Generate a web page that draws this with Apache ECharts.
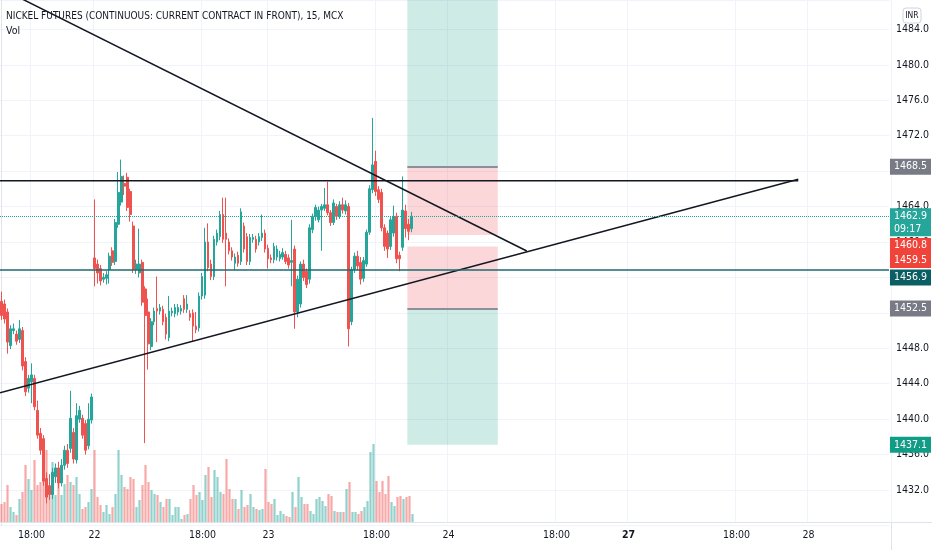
<!DOCTYPE html>
<html>
<head>
<meta charset="utf-8">
<script src="https://cdn.jsdelivr.net/npm/echarts@6/dist/echarts.min.js"></script>
<style>
  html, body { margin: 0; padding: 0; background: #fff; }
  #chart { width: 932px; height: 550px; }
</style>
</head>
<body>
<div id="chart"></div>
<script>
// trading sessions shown on the time axis: [day, first bar, number of 15 min bars]
var sessions = [
    ['21', '15:30', 31],
    ['22', '09:00', 58],
    ['23', '09:00', 60],
    ['24', '09:00', 60],
    ['27', '09:00', 60],
    ['28', '09:00', 28]
];

// candles: [open, high, low, close]
var ohlc = [
    [1453.3,1454.4,1451.2,1451.7],[1453.0,1453.5,1450.8,1451.3],[1452.1,1452.5,1447.4,1448.7],
    [1448.3,1450.6,1447.9,1450.2],[1450.0,1450.8,1449.6,1450.2],[1449.6,1450.0,1448.4,1448.8],
    [1449.0,1451.2,1448.6,1450.2],[1450.0,1450.4,1445.5,1446.0],[1446.5,1447.0,1442.6,1443.1],
    [1443.5,1445.0,1443.0,1444.6],[1444.2,1446.3,1441.8,1445.0],[1444.6,1445.0,1441.0,1441.4],
    [1441.0,1442.1,1437.8,1438.2],[1438.4,1439.0,1436.0,1436.5],[1437.8,1438.2,1432.5,1433.0],
    [1433.3,1434.0,1430.5,1431.2],[1432.5,1433.8,1430.9,1431.5],[1431.5,1434.5,1431.0,1434.0],
    [1433.5,1435.0,1432.8,1434.5],[1434.5,1435.2,1432.2,1432.8],[1432.8,1435.5,1432.4,1434.8],
    [1434.8,1437.0,1434.3,1436.5],[1436.5,1437.2,1434.5,1435.0],[1436.7,1443.2,1436.2,1440.1],
    [1438.5,1439.0,1435.0,1435.5],[1435.4,1441.8,1435.0,1440.4],[1440.0,1441.5,1439.6,1441.0],
    [1440.1,1440.5,1437.8,1438.2],[1439.5,1439.9,1436.0,1436.5],[1437.0,1441.8,1436.6,1440.0],
    [1439.9,1442.9,1439.5,1442.5],
    // 22
    [1458.2,1464.8,1455.0,1457.0],[1457.5,1458.0,1455.3,1456.5],[1457.0,1457.4,1455.1,1455.6],
    [1455.8,1456.5,1455.4,1456.0],[1455.9,1456.7,1455.2,1456.3],[1456.9,1458.8,1455.3,1458.4],
    [1459.0,1459.4,1457.3,1457.7],[1457.8,1462.6,1457.4,1462.2],[1462.0,1467.9,1461.6,1465.6],
    [1464.5,1469.3,1464.1,1467.4],[1466.6,1467.5,1465.3,1466.3],[1467.3,1467.8,1463.5,1463.9],
    [1465.7,1466.0,1462.3,1463.1],[1461.8,1462.3,1456.5,1456.9],[1456.9,1458.0,1456.4,1457.5],
    [1456.5,1461.5,1456.0,1457.5],[1457.7,1458.0,1452.8,1453.2],[1454.7,1455.0,1437.3,1451.7],
    [1452.1,1453.6,1445.6,1448.5],[1448.2,1451.4,1447.8,1451.0],[1451.0,1452.6,1450.6,1452.2],
    [1452.5,1456.1,1448.7,1452.2],[1452.2,1453.0,1451.8,1452.6],[1452.4,1452.8,1450.6,1451.0],
    [1451.5,1451.9,1449.0,1449.6],[1449.2,1453.9,1448.8,1452.2],[1452.0,1452.6,1451.6,1452.2],
    [1451.9,1453.0,1451.5,1452.6],[1452.1,1453.0,1451.7,1452.6],[1452.2,1452.9,1451.8,1452.5],
    [1453.6,1454.0,1452.0,1452.4],[1452.4,1454.0,1452.0,1453.0],[1451.9,1452.3,1451.1,1451.5],
    [1452.0,1452.4,1448.8,1450.5],[1450.5,1452.1,1449.7,1450.1],[1450.3,1454.3,1449.9,1453.9],
    [1453.9,1456.5,1453.5,1456.1],[1454.0,1461.6,1453.6,1460.0],[1460.0,1462.1,1456.7,1457.1],
    [1457.5,1458.0,1455.7,1456.1],[1456.1,1460.7,1455.7,1460.3],[1460.0,1461.4,1459.6,1461.0],
    [1460.6,1463.5,1460.2,1463.1],[1463.1,1465.0,1459.9,1460.3],[1461.0,1465.0,1455.0,1460.3],
    [1460.0,1460.4,1458.6,1459.0],[1459.0,1459.4,1457.9,1458.3],[1457.6,1458.7,1456.8,1458.3],
    [1458.5,1458.9,1457.2,1457.6],[1457.8,1463.8,1457.4,1463.4],[1461.8,1462.2,1458.8,1459.2],
    [1460.6,1461.0,1457.4,1457.8],[1457.8,1460.9,1457.4,1460.5],[1460.3,1460.9,1459.9,1460.5],
    [1460.3,1460.7,1458.8,1459.2],[1460.0,1461.0,1459.6,1460.6],[1460.5,1463.1,1460.1,1461.0],
    [1461.0,1461.4,1458.8,1459.2],
    // 23
    [1459.3,1459.7,1457.0,1458.1],[1458.2,1458.6,1457.6,1458.0],[1458.0,1459.9,1457.6,1459.5],
    [1458.3,1459.6,1457.9,1459.2],[1458.1,1459.0,1457.8,1458.6],[1458.3,1459.3,1458.0,1458.8],
    [1458.6,1459.0,1457.5,1457.8],[1458.2,1458.6,1457.0,1457.4],[1457.7,1462.5,1455.0,1457.9],
    [1459.2,1459.6,1450.2,1452.1],[1452.1,1456.2,1451.5,1455.8],[1453.0,1457.8,1452.6,1457.5],
    [1457.5,1458.0,1455.6,1456.0],[1456.7,1457.0,1454.8,1455.2],[1455.8,1462.0,1455.3,1461.6],
    [1461.4,1463.2,1461.0,1462.9],[1462.9,1464.2,1462.4,1463.9],[1462.5,1464.0,1462.2,1463.6],
    [1463.6,1464.3,1459.0,1464.0],[1463.8,1466.1,1463.5,1464.2],[1464.2,1466.8,1463.0,1463.3],
    [1463.3,1463.6,1461.8,1462.2],[1462.2,1464.8,1461.9,1464.4],[1464.0,1464.3,1462.5,1462.9],
    [1462.9,1464.6,1462.6,1464.2],[1464.2,1465.0,1463.2,1463.6],[1463.5,1464.7,1463.1,1464.2],
    [1464.0,1464.4,1448.2,1450.2],[1451.0,1457.2,1450.6,1456.9],[1456.9,1458.8,1456.5,1458.4],
    [1458.4,1459.0,1456.8,1457.3],[1457.7,1458.3,1455.2,1455.8],[1455.9,1458.3,1455.5,1457.9],
    [1457.5,1461.4,1457.2,1461.1],[1461.1,1466.4,1460.8,1466.0],[1465.9,1474.0,1465.5,1468.7],
    [1469.1,1470.3,1465.2,1465.7],[1465.9,1466.3,1464.4,1464.8],[1465.6,1466.0,1461.2,1461.6],
    [1461.6,1462.0,1459.0,1459.5],[1461.0,1461.3,1458.2,1459.2],[1459.5,1462.8,1459.1,1462.5],
    [1461.0,1464.1,1460.6,1462.9],[1462.9,1463.3,1457.6,1458.1],[1458.5,1458.9,1456.7,1458.1],
    [1459.4,1467.4,1459.0,1463.6],[1463.5,1464.2,1460.5,1461.5],[1462.0,1462.6,1460.2,1461.2],
    [1461.5,1463.4,1461.1,1462.9]
];

var volumes = [
    18,20,37,15,10,7,23,30,57,43,32,62,37,40,43,72,33,60,27,45,27,38,47,40,37,45,28,13,15,20,33,
    72,25,17,10,17,8,15,28,72,47,35,33,45,43,15,22,37,57,40,32,28,27,20,15,23,23,7,15,15,3,
    7,8,23,37,27,30,22,47,55,25,52,45,30,28,63,33,23,23,13,32,15,17,28,15,13,12,13,53,20,18,23,7,
    11,8,6,5,30,15,45,25,18,18,11,8,23,25,21,16,28,26,11,10,10,10,33,40,10,10,8,11,15,21,
    70,78,41,30,41,28,46,20,16,25,26,23,25,26,8
];

// drawings, in [bar index, price]
var trendDown = [[-0.5, 1488.67], [175.5, 1458.98]];
var trendUp = [[-0.5, 1442.98], [266.2, 1467.07]];
var resistance = [[-0.5, 1466.92], [266.2, 1466.92]];
var supportLevel = 1456.9;
var lastPrice = 1462.9;
var countdown = '09:17';

// position tool: bar span and price bands
var posBars = [135.6, 165.8];
var greenBands = [[1487.31, 1468.5], [1452.5, 1437.1]];
var redBands = [[1468.5, 1460.8], [1459.5, 1452.5]];
var posEdges = [1468.5, 1452.5];

var priceTicks = { min: 1428, max: 1487.31, step: 4 };
var tagLevels = [1468.5, 1462.9, 1460.8, 1459.5, 1456.9, 1452.5, 1437.1];

var FONT = "'Liberation Sans Narrow', 'DejaVu Sans Condensed', 'Roboto Condensed', Roboto, sans-serif";
var UP = '#26a69a', DOWN = '#ef5350';

function pad(n) { return (n < 10 ? '0' : '') + n; }
var slots = [];
sessions.forEach(function (s) {
    var hm = s[1].split(':');
    var start = (+hm[0]) * 60 + (+hm[1]);
    for (var k = 0; k < s[2]; k++) {
        var t = start + k * 15;
        slots.push(s[0] + ' ' + pad(Math.floor(t / 60)) + ':' + pad(t % 60));
    }
});

function showSlot(index, value) {
    var t = slots[index].split(' ')[1];
    return t === '18:00' || t === '09:00';
}

var candleData = ohlc.map(function (r) { return [r[0], r[3], r[2], r[1]]; });
var volumeData = volumes.map(function (v, i) {
    var up = ohlc[i][3] >= ohlc[i][0];
    return { value: v, itemStyle: { color: up ? 'rgba(38,166,154,0.5)' : 'rgba(239,83,80,0.5)' } };
});

var tagStyle = [
    { bg: '#787b86', dy: 0 },
    { bg: '#26a69a', dy: 6, text: lastPrice.toFixed(1) + '\n' + countdown },
    { bg: '#f0443a', dy: 10.5 },
    { bg: '#f0443a', dy: 14 },
    { bg: '#0b5e63', dy: 8 },
    { bg: '#787b86', dy: 0 },
    { bg: '#119c86', dy: 0 }
];

var tagLines = tagLevels.map(function (p, i) {
    var st = tagStyle[i];
    var tight = (i === 1 || i === 2 || i === 3);
    return {
        yAxis: p,
        lineStyle: { color: 'rgba(0,0,0,0)', width: 0 },
        label: {
            show: true,
            position: 'end',
            distance: 1,
            offset: [0, st.dy],
            formatter: st.text || p.toFixed(1),
            color: '#ffffff',
            backgroundColor: st.bg,
            fontFamily: FONT,
            fontSize: 10.5,
            lineHeight: 13,
            padding: tight ? [1, 4, 1, 4] : [2, 4, 1, 4]
        }
    };
});

var levelLines = [
    { yAxis: supportLevel, lineStyle: { color: '#1d6a70', width: 1.5, type: 'solid' }, label: { show: false } },
    { yAxis: lastPrice, lineStyle: { color: UP, width: 1, type: 'dotted' }, label: { show: false } }
];
posEdges.forEach(function (p) {
    levelLines.push([
        { coord: [posBars[0], p], lineStyle: { color: '#8c8f98', width: 2, type: 'solid' }, label: { show: false } },
        { coord: [posBars[1], p] }
    ]);
});

var areas = [];
greenBands.forEach(function (b) {
    areas.push([{ coord: [posBars[0], b[0]], itemStyle: { color: 'rgba(8,153,129,0.2)' } }, { coord: [posBars[1], b[1]] }]);
});
redBands.forEach(function (b) {
    areas.push([{ coord: [posBars[0], b[0]], itemStyle: { color: 'rgba(242,54,69,0.2)' } }, { coord: [posBars[1], b[1]] }]);
});

var myChart = echarts.init(document.getElementById('chart'));
var option = {
    animation: false,
    backgroundColor: '#ffffff',
    textStyle: { fontFamily: FONT },
    title: {
        left: 6,
        top: 11,
        padding: 0,
        itemGap: 5,
        text: 'NICKEL FUTURES (CONTINUOUS: CURRENT CONTRACT IN FRONT), 15, MCX',
        subtext: 'Vol',
        textStyle: { fontFamily: FONT, fontSize: 10, fontWeight: 'normal', color: '#131722' },
        subtextStyle: { fontFamily: FONT, fontSize: 10.5, color: '#131722' }
    },
    grid: [
        { left: 0, right: 41, top: 0, bottom: 24.5 },
        { left: 0, right: 41, top: 0, bottom: 28 }
    ],
    xAxis: [
        { type: 'category', gridIndex: 0, data: slots, show: false, boundaryGap: true },
        {
            type: 'category', gridIndex: 1, data: slots, boundaryGap: true,
            axisLine: { lineStyle: { color: '#e0e3eb' } },
            axisTick: { show: false },
            axisLabel: {
                interval: showSlot,
                margin: 8,
                color: '#131722',
                fontFamily: FONT,
                fontSize: 10.5,
                formatter: function (v) {
                    var p = v.split(' ');
                    if (p[1] === '09:00') return p[0] === '27' ? '{b|27}' : p[0];
                    return p[1];
                },
                rich: { b: { fontWeight: 'bold', fontFamily: FONT, fontSize: 10.5, color: '#131722' } }
            },
            splitLine: { show: true, interval: showSlot, lineStyle: { color: '#f0f3fa' } }
        },
        { type: 'value', gridIndex: 0, min: -0.5, max: slots.length - 0.5, show: false }
    ],
    yAxis: [
        {
            type: 'value', gridIndex: 0, position: 'right',
            min: priceTicks.min, max: priceTicks.max, interval: priceTicks.step,
            axisLine: { show: true, lineStyle: { color: '#e0e3eb' } },
            axisTick: { show: false },
            axisLabel: {
                showMinLabel: false, showMaxLabel: false,
                margin: 7, color: '#131722', fontFamily: FONT, fontSize: 10.5,
                formatter: function (v) { return v.toFixed(1); }
            },
            splitLine: { lineStyle: { color: '#f0f3fa' } }
        },
        { type: 'value', gridIndex: 1, min: 0, max: 522, show: false }
    ],
    graphic: [
        { type: 'rect', shape: { x: 903, y: 8, width: 18, height: 15, r: 3 }, style: { fill: '#fff', stroke: '#d1d4dc', lineWidth: 1 } },
        { type: 'text', x: 912, y: 16, style: { text: 'INR', fontSize: 8.5, fontFamily: FONT, fill: '#131722', align: 'center', verticalAlign: 'middle' } },
        { type: 'line', shape: { x1: 891, y1: 522.5, x2: 932, y2: 522.5 }, style: { stroke: '#e0e3eb', lineWidth: 1 } },
        { type: 'line', shape: { x1: 891.5, y1: 522, x2: 891.5, y2: 550 }, style: { stroke: '#e0e3eb', lineWidth: 1 } }
    ],
    series: [
        {
            name: 'Vol', type: 'bar', xAxisIndex: 1, yAxisIndex: 1,
            data: volumeData, barWidth: 2.2, z: 1
        },
        {
            name: 'NICKEL', type: 'candlestick', xAxisIndex: 0, yAxisIndex: 0,
            data: candleData, barWidth: 2.2, z: 3,
            itemStyle: { color: UP, color0: DOWN, borderColor: UP, borderColor0: DOWN, borderWidth: 1 }
        },
        {
            name: 'position', type: 'line', xAxisIndex: 2, yAxisIndex: 0,
            data: resistance, symbol: 'none', z: 4,
            lineStyle: { color: '#131722', width: 1.5 },
            markArea: { silent: true, data: areas },
            markLine: { silent: true, symbol: ['none', 'none'], data: levelLines.concat(tagLines) }
        },
        {
            name: 'trend down', type: 'line', xAxisIndex: 2, yAxisIndex: 0,
            data: trendDown, symbol: 'none', z: 4,
            lineStyle: { color: '#131722', width: 1.5 }
        },
        {
            name: 'trend up', type: 'line', xAxisIndex: 2, yAxisIndex: 0,
            data: trendUp, symbol: 'none', z: 4,
            lineStyle: { color: '#131722', width: 1.5 }
        }
    ]
};
myChart.setOption(option);
</script>
</body>
</html>
